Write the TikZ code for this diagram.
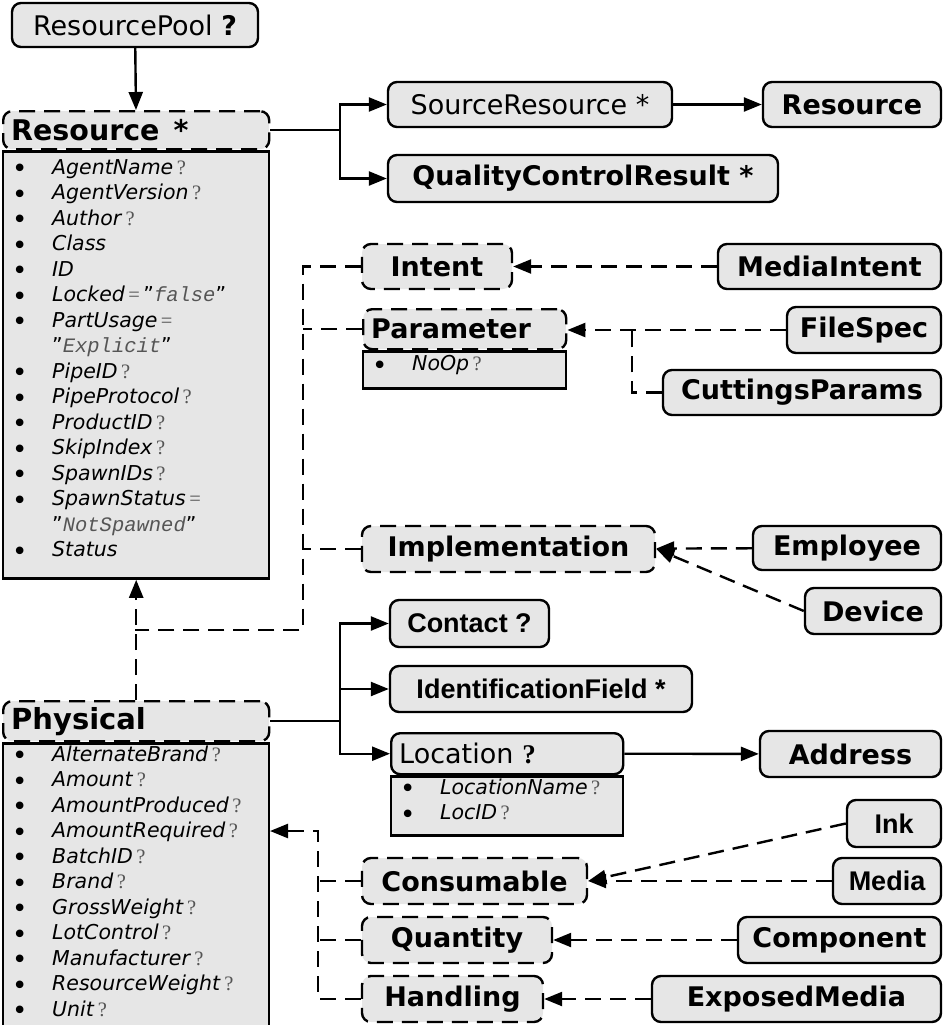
\documentclass[tikz,border=0pt]{standalone}
\usepackage{fontspec}
\setmainfont{DejaVu Sans}
\newfontfamily\arialfont{Liberation Sans}
\newfontfamily\serffont{Liberation Serif}
\newfontfamily\codefont{Liberation Mono}
\usetikzlibrary{arrows.meta, positioning}

\definecolor{boxgray}{RGB}{230,230,230}
\definecolor{qgray}{RGB}{85,85,85}

\newcommand{\lbl}{\fontsize{27}{30}\selectfont}
\newcommand{\attfont}{\fontsize{20.5}{25.5}\selectfont}
\newcommand{\opt}{\,{\serffont\color{qgray}?}}
\newcommand{\eq}{\,{\serffont\color{qgray}=}}
\newcommand{\att}[1]{\makebox[41pt][l]{\hspace{1pt}\smash{\raisebox{-3.5pt}{\fontsize{26}{25}\selectfont\textbullet}}}\textit{#1}}
\newcommand{\val}[1]{"{\codefont\itshape\color{qgray}#1}"}
\newcommand{\lastline}{\rule[-14pt]{0pt}{14pt}}

\begin{document}
\begin{tikzpicture}[x=1pt, y=-1pt,
  box/.style = {draw, line width=2.4pt, rounded corners=9pt, fill=boxgray,
                minimum height=45pt, inner xsep=6pt, font=\lbl\bfseries},
  abstract/.style = {box, dash pattern=on 16pt off 9pt},
  arial/.style = {box, font=\lbl\arialfont\bfseries},
  plain/.style = {box, font=\lbl},
  head/.style = {anchor=north west, minimum height=40pt, align=left},
  attlist/.style = {draw, line width=2.4pt, fill=boxgray, anchor=north west,
                    align=left, inner xsep=8pt, inner ysep=2pt, font=\attfont},
  link/.style = {line width=2.4pt, -{Triangle[length=18pt, width=14pt]}},
  isa/.style = {link, dash pattern=on 16pt off 9pt},
  dline/.style = {line width=2.4pt, dash pattern=on 16pt off 9pt}]
  \useasboundingbox (0,0) rectangle (943,1025);

  % left column
  \node[plain, minimum width=246pt, minimum height=44pt] (pool) at (135,25)
       {ResourcePool \textbf{?}};
  \node[abstract, head, minimum width=266pt, minimum height=38pt, text width=250pt,
        font=\fontsize{28.5}{30}\selectfont\bfseries] (res) at (2,110) {Resource\hspace{14pt}*};
  \node[attlist, minimum width=266pt, minimum height=427pt, text width=250pt]
       (resatt) at (res.south west) {%
    \att{AgentName}\opt\\
    \att{AgentVersion}\opt\\
    \att{Author}\opt\\
    \att{Class}\\
    \att{ID}\\
    \att{Locked}\eq\,\val{false}\\
    \att{PartUsage}\eq\\
    \hspace*{41pt}\val{Explicit}\\
    \att{PipeID}\opt\\
    \att{PipeProtocol}\opt\\
    \att{ProductID}\opt\\
    \att{SkipIndex}\opt\\
    \att{SpawnIDs}\opt\\
    \att{SpawnStatus}\eq\\
    \hspace*{41pt}\val{NotSpawned}\\
    \att{Status}\lastline};
  \node[abstract, head, minimum width=266pt, text width=250pt,
        font=\fontsize{29}{30}\selectfont\bfseries] (phys) at (2,700) {Physical};
  \node[attlist, minimum width=266pt, minimum height=282pt, text width=250pt]
       (physatt) at (phys.south west) {%
    \att{AlternateBrand}\opt\\
    \att{Amount}\opt\\
    \att{AmountProduced}\opt\\
    \att{AmountRequired}\opt\\
    \att{BatchID}\opt\\
    \att{Brand}\opt\\
    \att{GrossWeight}\opt\\
    \att{LotControl}\opt\\
    \att{Manufacturer}\opt\\
    \att{ResourceWeight}\opt\\
    \att{Unit}\opt\lastline};

  % middle column
  \node[plain, minimum width=284pt] (srcres) at (530,104.5) {SourceResource *};
  \node[box, minimum width=390pt, minimum height=47pt] (qcr) at (583,178.5) {QualityControlResult *};
  \node[abstract, minimum width=150pt] (intent) at (437,266.5) {Intent};
  \node[abstract, head, minimum width=203pt, text width=187pt] (param) at (362,308) {Parameter};
  \node[attlist, minimum width=203pt, minimum height=37pt, text width=187pt]
       (paramatt) at (param.south west) {\att{NoOp}\opt\lastline};
  \node[abstract, minimum width=293pt, minimum height=46pt] (impl) at (508.5,549) {Implementation};
  \node[arial, minimum width=159pt, minimum height=47pt] (contact) at (469.5,623.5) {Contact ?};
  \node[arial, minimum width=302pt, minimum height=46pt] (idfield) at (541,689) {IdentificationField *};
  \node[box, head, minimum width=232pt, minimum height=41pt, text width=216pt, font=\lbl]
       (loc) at (390,732) {Location {\serffont\bfseries ?}};
  \node[attlist, minimum width=232pt, minimum height=59pt, text width=216pt]
       (locatt) at (loc.south west) {\att{LocationName}\opt\\ \att{LocID}\opt\lastline};
  \node[abstract, minimum width=225pt, minimum height=46pt] (consum) at (474.5,881) {Consumable};
  \node[abstract, minimum width=190pt, minimum height=46pt] (quant) at (457,940) {Quantity};
  \node[abstract, minimum width=181pt, minimum height=46pt] (handling) at (452.5,999) {Handling};

  % right column
  \node[box, minimum width=178pt] (resref) at (852,104.5) {Resource};
  \node[box, minimum width=223pt] (mintent) at (829.5,266.5) {MediaIntent};
  \node[box, minimum width=154pt, minimum height=46pt] (filespec) at (864,330) {FileSpec};
  \node[box, minimum width=278pt] (cutparams) at (802,392.5) {CuttingsParams};
  \node[box, minimum width=188pt, minimum height=44pt] (employee) at (847,548) {Employee};
  \node[box, minimum width=136pt, minimum height=46pt] (device) at (873,611) {Device};
  \node[box, minimum width=181pt, minimum height=46pt] (address) at (850.5,754) {Address};
  \node[arial, minimum width=94pt, minimum height=47pt] (ink) at (894,823.5) {Ink};
  \node[arial, minimum width=108pt, minimum height=46pt] (media) at (887,881) {Media};
  \node[box, minimum width=203pt, minimum height=46pt] (component) at (839.5,940) {Component};
  \node[box, minimum width=289pt, minimum height=46pt] (expmedia) at (796.5,999) {ExposedMedia};

  % junctions
  \coordinate (fork) at (340,0);
  \coordinate (trunk) at (303,0);
  \coordinate (trunkb) at (318,0);
  \coordinate (j1) at (135,630);
  \coordinate (pjoin) at (632,330);
  \coordinate (physin) at (270,831);

  % containment
  \draw[link] (pool) -- (res);
  \draw[link] (res.east) -- (res.east -| fork) |- (srcres);
  \draw[link] (res.east -| fork) |- (qcr);
  \draw[link] (srcres) -- (resref);
  \draw[link] (phys.east) -- (phys.east -| fork) |- (contact);
  \draw[link] (phys.east -| fork) |- (idfield);
  \draw[link] (phys.east -| fork) |- (loc);
  \draw[link] (loc.east) -- (address);

  % inheritance
  \draw[isa] (phys.north) -- (resatt.south);
  \draw[dline] (intent.west) -| (trunk |- j1) -- (j1);
  \draw[dline] (param.west) -- (param.west -| trunk);
  \draw[dline] (impl.west) -- (impl.west -| trunk);
  \path[isa] (mintent) edge (intent)
             (filespec.west) edge (filespec.west -| param.east)
             (employee) edge (impl)
             (device.west) edge (impl.east)
             (ink.west) edge (consum.east)
             (media) edge (consum)
             (component) edge (quant)
             (expmedia) edge (handling);
  \draw[dline] (cutparams.west) -| (pjoin);
  \draw[isa] (handling.west) -| (trunkb |- physin) -- (physin);
  \draw[dline] (consum.west) -- (consum.west -| trunkb);
  \draw[dline] (quant.west) -- (quant.west -| trunkb);
\end{tikzpicture}
\end{document}
